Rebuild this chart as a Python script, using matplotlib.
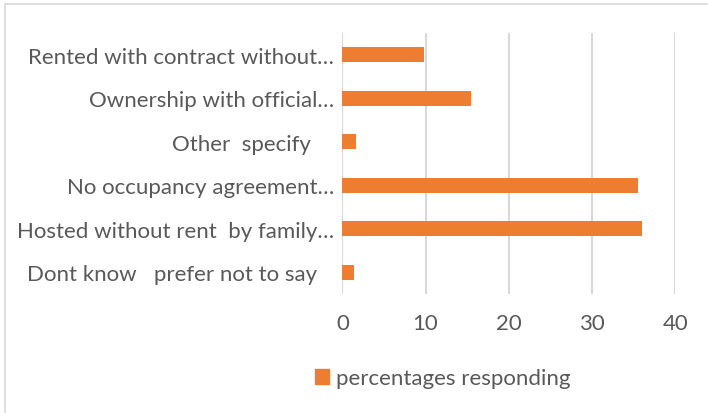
import matplotlib.pyplot as plt
from matplotlib.patches import Patch, Rectangle

categories = [
    'Rented with contract without…',
    'Ownership with official…',
    'Other  specify    ',
    'No occupancy agreement…',
    'Hosted without rent  by family…',
    'Dont know   prefer not to say   ',
]
percentages = [9.8, 15.4, 1.6, 35.5, 36.0, 1.4]
x_ticks = [0, 10, 20, 30, 40]
series_name = 'percentages responding'

ORANGE = '#ED7D31'
TEXT = '#595959'
GRID = '#D9D9D9'

plt.rcParams['font.family'] = ['Lato', 'DejaVu Sans']

fig = plt.figure(figsize=(7.08, 4.14), dpi=100)
ax = fig.add_axes([0.4835, 0.2874, 0.4703, 0.6305])

pos = list(range(len(categories)))
ax.barh(pos, percentages, height=0.345, color=ORANGE, zorder=3)
ax.set_yticks(pos)
ax.set_yticklabels(categories)
ax.set_ylim(len(categories) - 0.5, -0.5)
ax.set_xlim(0, 40)
ax.set_xticks(x_ticks)
ax.set_xticklabels([str(t) for t in x_ticks])

ax.grid(axis='x', color=GRID, linewidth=1.5, zorder=0)
for s in ax.spines.values():
    s.set_visible(False)
ax.tick_params(axis='both', length=0, colors=TEXT, labelsize=16)
ax.tick_params(axis='x', pad=14)
ax.tick_params(axis='y', pad=6)

fig.legend(handles=[Patch(color=ORANGE, label=series_name)],
           loc='center left', bbox_to_anchor=(315 / 708, 0.0845),
           frameon=False, fontsize=16, labelcolor=TEXT,
           borderpad=0, borderaxespad=0,
           handlelength=0.65, handleheight=0.65, handletextpad=0.3)

# chart area outline
fig.patches.append(Rectangle((4.5 / 708, -0.1), 1.2, 1.1 - 4.5 / 414,
                             transform=fig.transFigure, fill=False,
                             edgecolor=GRID, linewidth=1.2))

fig.savefig('out.png', dpi=100)
